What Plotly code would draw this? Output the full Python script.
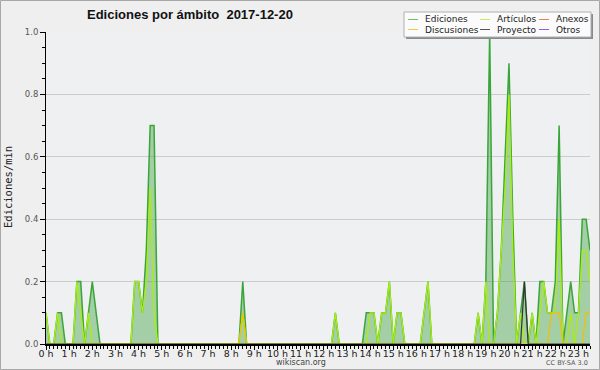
import plotly.graph_objects as go

# 10-minute slots, values in edits per minute
ediciones = [
    0.1, 0, 0, 0.1, 0.1, 0, 0, 0, 0.2, 0.2, 0, 0.1,
    0.2, 0.1, 0, 0, 0, 0, 0, 0, 0, 0, 0, 0.2,
    0.2, 0.1, 0.3, 0.7, 0.7, 0, 0, 0, 0, 0, 0, 0,
    0, 0, 0, 0, 0, 0, 0, 0, 0, 0, 0, 0,
    0, 0, 0, 0.2, 0, 0, 0, 0, 0, 0, 0, 0,
    0, 0, 0, 0, 0, 0, 0, 0, 0, 0, 0, 0,
    0, 0, 0, 0.1, 0, 0, 0, 0, 0, 0, 0, 0.1,
    0.1, 0.1, 0, 0.1, 0.1, 0.2, 0, 0.1, 0.1, 0, 0, 0,
    0, 0, 0.1, 0.2, 0, 0, 0, 0, 0, 0, 0, 0,
    0, 0, 0, 0, 0.1, 0, 0.2, 1.0, 0, 0.1, 0.3, 0.6,
    0.9, 0.4, 0, 0.1, 0.2, 0, 0.1, 0, 0.2, 0.2, 0.1, 0.1,
    0.2, 0.7, 0, 0.1, 0.2, 0.1, 0.1, 0.4, 0.4, 0.3,
]
articulos = [
    0.1, 0, 0, 0.1, 0, 0, 0, 0, 0.2, 0.1, 0, 0.1,
    0, 0, 0, 0, 0, 0, 0, 0, 0, 0, 0, 0.2,
    0.2, 0.1, 0.2, 0.5, 0.1, 0, 0, 0, 0, 0, 0, 0,
    0, 0, 0, 0, 0, 0, 0, 0, 0, 0, 0, 0,
    0, 0, 0, 0.1, 0, 0, 0, 0, 0, 0, 0, 0,
    0, 0, 0, 0, 0, 0, 0, 0, 0, 0, 0, 0,
    0, 0, 0, 0.1, 0, 0, 0, 0, 0, 0, 0, 0,
    0.1, 0.1, 0, 0.1, 0.1, 0.2, 0, 0.1, 0.1, 0, 0, 0,
    0, 0, 0.1, 0.2, 0, 0, 0, 0, 0, 0, 0, 0,
    0, 0, 0, 0, 0.1, 0, 0.2, 0, 0, 0.1, 0.3, 0.5,
    0.8, 0.3, 0, 0.1, 0, 0, 0.1, 0, 0.1, 0.2, 0.1, 0.1,
    0.1, 0.4, 0, 0, 0.1, 0, 0.1, 0.3, 0.3, 0.2,
]
discusiones = [
    0, 0, 0, 0, 0, 0, 0, 0, 0, 0, 0, 0,
    0, 0, 0, 0, 0, 0, 0, 0, 0, 0, 0, 0,
    0, 0, 0, 0, 0, 0, 0, 0, 0, 0, 0, 0,
    0, 0, 0, 0, 0, 0, 0, 0, 0, 0, 0, 0,
    0, 0, 0, 0.1, 0, 0, 0, 0, 0, 0, 0, 0,
    0, 0, 0, 0, 0, 0, 0, 0, 0, 0, 0, 0,
    0, 0, 0, 0, 0, 0, 0, 0, 0, 0, 0, 0,
    0, 0, 0, 0, 0, 0, 0, 0, 0, 0, 0, 0,
    0, 0, 0, 0, 0, 0, 0, 0, 0, 0, 0, 0,
    0, 0, 0, 0, 0, 0, 0, 0, 0, 0, 0, 0,
    0, 0, 0, 0, 0, 0, 0, 0, 0, 0, 0, 0.1,
    0.1, 0.1, 0, 0, 0, 0, 0, 0, 0.1, 0.1,
]
proyecto = [
    0, 0, 0, 0, 0, 0, 0, 0, 0, 0, 0, 0,
    0, 0, 0, 0, 0, 0, 0, 0, 0, 0, 0, 0,
    0, 0, 0, 0, 0, 0, 0, 0, 0, 0, 0, 0,
    0, 0, 0, 0, 0, 0, 0, 0, 0, 0, 0, 0,
    0, 0, 0, 0, 0, 0, 0, 0, 0, 0, 0, 0,
    0, 0, 0, 0, 0, 0, 0, 0, 0, 0, 0, 0,
    0, 0, 0, 0, 0, 0, 0, 0, 0, 0, 0, 0,
    0, 0, 0, 0, 0, 0, 0, 0, 0, 0, 0, 0,
    0, 0, 0, 0, 0, 0, 0, 0, 0, 0, 0, 0,
    0, 0, 0, 0, 0, 0, 0, 0, 0, 0, 0, 0,
    0, 0, 0, 0, 0.2, 0, 0, 0, 0, 0, 0, 0,
    0, 0, 0, 0, 0, 0, 0, 0, 0, 0,
]

hour_ticks = [0, 6, 12, 18, 24, 30, 36, 42, 48, 54, 60, 66,
              72, 78, 84, 90, 96, 102, 108, 114, 120, 126, 132, 138]
hour_labels = ["0 h", "1 h", "2 h", "3 h", "4 h", "5 h", "6 h", "7 h",
               "8 h", "9 h", "10 h", "11 h", "12 h", "13 h", "14 h", "15 h",
               "16 h", "17 h", "18 h", "19 h", "20 h", "21 h", "22 h", "23 h"]
y_ticks = [0, 0.2, 0.4, 0.6, 0.8, 1.0]

legend_names = ["Ediciones", "Artículos", "Anexos", "Discusiones", "Proyecto", "Otros"]
legend_colors = ["#6cc46c", "#c4ec60", "#f08050", "#f0cc40", "#555555", "#9955ee"]

x = list(range(len(ediciones)))

W, H = 600, 370
ML, MR, MT, MB = 46, 10, 32, 26
PW, PH = W - ML - MR, H - MT - MB


def px(v):
    return (v - ML) / PW


def py(v):
    return (H - MB - v) / PH


fig = go.Figure()
fig.add_trace(go.Scatter(x=x, y=ediciones, mode="lines", name="Ediciones",
                         line=dict(color="#3aa63a", width=1.5),
                         fill="tozeroy", fillcolor="rgba(60,160,60,0.42)"))
fig.add_trace(go.Scatter(x=x, y=articulos, mode="lines", name="Artículos",
                         line=dict(color="#a8ee10", width=1.3)))
fig.add_trace(go.Scatter(x=x, y=discusiones, mode="lines", name="Discusiones",
                         line=dict(color="#f2c000", width=1.2)))
fig.add_trace(go.Scatter(x=x, y=proyecto, mode="lines", name="Proyecto",
                         line=dict(color="#333333", width=1.2)))

shapes = []
annotations = []

# outer frame
shapes.append(dict(type="rect", xref="paper", yref="paper",
                   x0=px(0.5), x1=px(599.5), y0=py(369.5), y1=py(0.5),
                   line=dict(color="#a8a8a8", width=1), layer="below"))

# legend box with shadow
shapes.append(dict(type="rect", xref="paper", yref="paper",
                   x0=px(406), x1=px(593), y0=py(39), y1=py(14),
                   line=dict(width=0), fillcolor="#8a8a8a", layer="above"))
shapes.append(dict(type="rect", xref="paper", yref="paper",
                   x0=px(404), x1=px(591), y0=py(37), y1=py(12),
                   line=dict(color="#b0b0b0", width=1), fillcolor="#fbfbfb", layer="above"))
col_x = [408, 480, 539]
row_y = [19.5, 29.5]
for i, (name, col) in enumerate(zip(legend_names, legend_colors)):
    r, c = divmod(i, 3)
    shapes.append(dict(type="line", xref="paper", yref="paper",
                       x0=px(col_x[c]), x1=px(col_x[c] + 10), y0=py(row_y[r]), y1=py(row_y[r]),
                       line=dict(color=col, width=1), layer="above"))
    annotations.append(dict(text=name, xref="paper", yref="paper",
                            x=px(col_x[c] + 15), y=py(row_y[r]), xanchor="left", yanchor="middle",
                            showarrow=False, font=dict(family="DejaVu Sans", size=9, color="#222")))

annotations.append(dict(text="Ediciones por ámbito \u00a02017-12-20", xref="paper", yref="paper",
                        x=px(85), y=py(15), xanchor="left", yanchor="middle", showarrow=False,
                        font=dict(family="Liberation Sans", size=13, color="#111", weight="bold")))
annotations.append(dict(text="Ediciones/min", xref="paper", yref="paper", textangle=-90,
                        x=px(8), y=py(187), xanchor="center", yanchor="middle", showarrow=False,
                        font=dict(family="DejaVu Sans Mono", size=10.5, color="#222")))
annotations.append(dict(text="wikiscan.org", xref="paper", yref="paper",
                        x=px(301), y=py(362), xanchor="center", yanchor="middle", showarrow=False,
                        font=dict(family="DejaVu Sans", size=8, color="#444")))
annotations.append(dict(text="CC BY-SA 3.0", xref="paper", yref="paper",
                        x=px(590), y=py(363), xanchor="right", yanchor="middle", showarrow=False,
                        font=dict(family="DejaVu Sans", size=6.5, color="#555")))

fig.update_layout(
    width=W, height=H,
    margin=dict(l=ML, r=MR, t=MT, b=MB, pad=0, autoexpand=False),
    paper_bgcolor="#efefef", plot_bgcolor="#eff0f1",
    showlegend=False, hovermode=False,
    shapes=shapes, annotations=annotations,
    xaxis=dict(range=[0, len(ediciones) - 1], tickmode="array", tickvals=hour_ticks,
               ticktext=hour_labels, ticks="outside", ticklen=4, tickcolor="black",
               tickangle=0, ticklabelstandoff=-4,
               showline=True, linecolor="black", linewidth=2, showgrid=False, zeroline=False,
               tickfont=dict(family="DejaVu Sans", size=9.5, color="#222"),
               minor=dict(dtick=1, ticks="outside", ticklen=3, tickcolor="black")),
    yaxis=dict(range=[0, 1.0], tickmode="array", tickvals=y_ticks, tickformat=".1f",
               ticks="outside", ticklen=5, tickcolor="black",
               showline=True, linecolor="black", linewidth=1, showgrid=True,
               gridcolor="#cccccc", gridwidth=1, zeroline=False,
               tickfont=dict(family="DejaVu Sans", size=8.5, color="#555"),
               minor=dict(dtick=0.05, ticks="outside", ticklen=3, tickcolor="black", showgrid=False)),
)

fig.write_html("out.html", config={"displayModeBar": False, "staticPlot": True},
               post_script="document.body.style.margin='0px';document.body.style.padding='0px';")
